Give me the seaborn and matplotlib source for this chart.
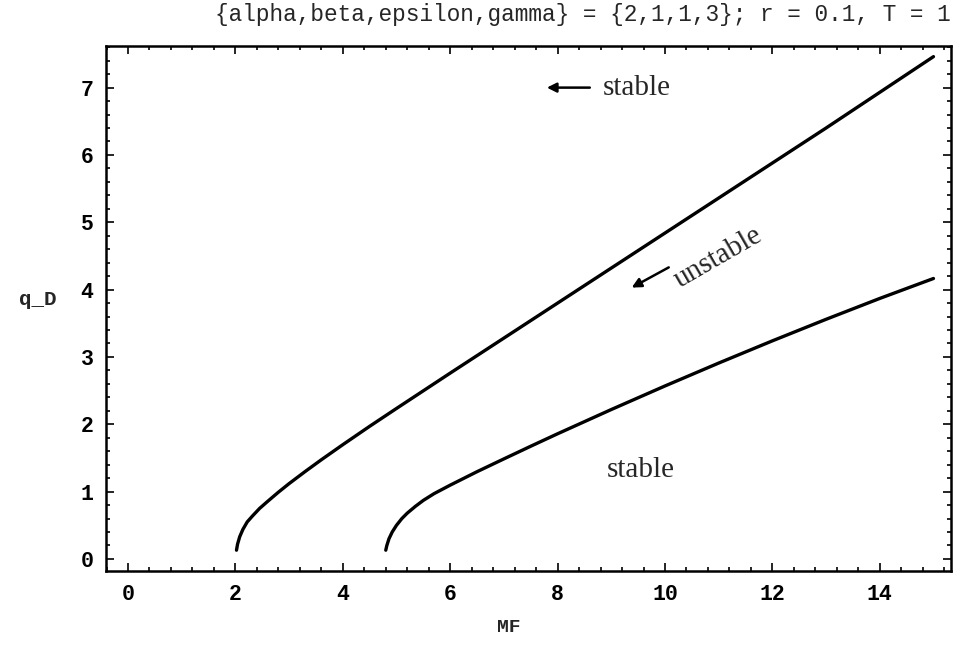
import matplotlib
matplotlib.use("Agg")
import matplotlib.pyplot as plt
from matplotlib.ticker import MultipleLocator
import pandas as pd
import seaborn as sns

# Boundary curves in the (MF, q_D) plane
upper_mf = [2.02, 2.04, 2.08, 2.14, 2.22, 2.32, 2.45, 2.6, 2.8, 3.0, 3.3, 3.6, 4.0, 4.5,
            5.0, 6.0, 7.0, 8.0, 9.0, 10.0, 11.0, 12.0, 13.0, 14.0, 15.0]
upper_qd = [0.13, 0.22, 0.33, 0.44, 0.55, 0.64, 0.75, 0.855, 0.991, 1.119, 1.299, 1.473,
            1.697, 1.97, 2.235, 2.76, 3.28, 3.8, 4.32, 4.84, 5.36, 5.88, 6.4, 6.93, 7.46]
lower_mf = [4.8, 4.82, 4.86, 4.92, 5.0, 5.1, 5.2, 5.35, 5.5, 5.7, 6.0, 6.5, 7.0, 7.5, 8.0,
            9.0, 10.0, 11.0, 12.0, 13.0, 14.0, 15.0]
lower_qd = [0.13, 0.2, 0.3, 0.4, 0.5, 0.6, 0.68, 0.78, 0.87, 0.97, 1.096, 1.296, 1.486,
            1.674, 1.859, 2.219, 2.569, 2.909, 3.239, 3.559, 3.869, 4.165]

title = "{alpha,beta,epsilon,gamma} = {2,1,1,3}; r = 0.1, T = 1"

sns.set_style("ticks")
plt.rcParams["font.family"] = ["Liberation Mono", "DejaVu Sans"]

fig = plt.figure(figsize=(9.55, 6.46), dpi=100)
ax = fig.add_axes([0.111, 0.116, 0.885, 0.813])

df = pd.concat([
    pd.DataFrame({"MF": upper_mf, "q_D": upper_qd, "curve": "upper"}),
    pd.DataFrame({"MF": lower_mf, "q_D": lower_qd, "curve": "lower"}),
])
sns.lineplot(data=df, x="MF", y="q_D", units="curve", estimator=None, sort=False,
             color="black", linewidth=2.4, solid_capstyle="round",
             solid_joinstyle="round", ax=ax, legend=False)

ax.set_xlim(-0.41, 15.33)
ax.set_ylim(-0.18, 7.62)
ax.xaxis.set_major_locator(MultipleLocator(2))
ax.xaxis.set_minor_locator(MultipleLocator(0.4))
ax.yaxis.set_major_locator(MultipleLocator(1))
ax.yaxis.set_minor_locator(MultipleLocator(0.2))
ax.tick_params(which="both", direction="in", top=True, right=True, width=1.2,
               colors="black")
ax.tick_params(which="major", length=6, labelsize=15.5, pad=9)
ax.tick_params(which="minor", length=3)
for lab in ax.get_xticklabels() + ax.get_yticklabels():
    lab.set_fontweight("bold")
for sp in ax.spines.values():
    sp.set_linewidth(1.8)
    sp.set_color("black")

ax.set_xlabel("MF", fontsize=14, fontweight="bold")
ax.xaxis.set_label_coords(0.477, -0.092)
ax.set_ylabel("q_D", fontsize=15, fontweight="bold", rotation=0, va="center")
ax.yaxis.set_label_coords(-0.081, 0.517)
fig.text(583 / 955, 1 - 14 / 646, title, fontsize=16.4, ha="center", va="center")

serif = "Liberation Serif"
ax.text(8.85, 7.0, "stable", fontsize=21, family=serif, va="center", ha="left")
ax.annotate("", xy=(7.8, 7.0), xytext=(8.6, 7.0),
            arrowprops=dict(arrowstyle="-|>", color="black", lw=1.8,
                            mutation_scale=14, shrinkA=0, shrinkB=0))
ax.text(11.0, 4.48, "unstable", fontsize=21, family=serif, va="center", ha="center",
        rotation=30, rotation_mode="anchor")
ax.annotate("", xy=(9.38, 4.03), xytext=(10.07, 4.33),
            arrowprops=dict(arrowstyle="-|>", color="black", lw=1.8,
                            mutation_scale=14, shrinkA=0, shrinkB=0))
ax.text(9.55, 1.32, "stable", fontsize=21, family=serif, va="center", ha="center")

fig.savefig("out.png", dpi=100, facecolor="white")
